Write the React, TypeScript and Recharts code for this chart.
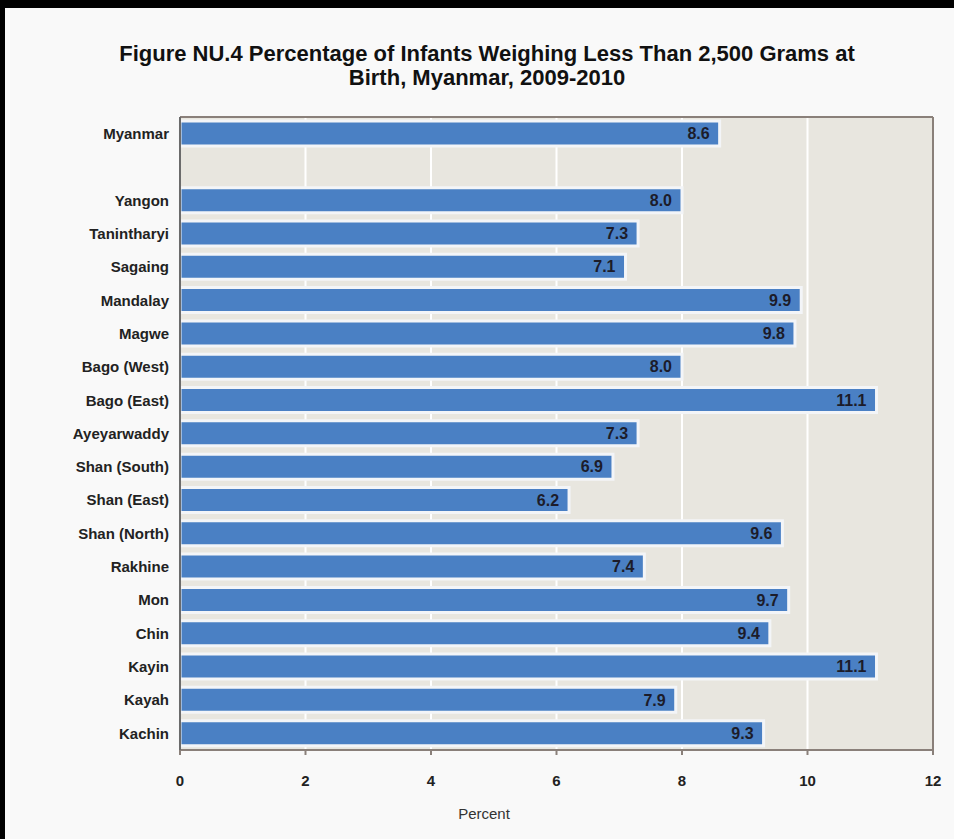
import React from 'react';
import { BarChart, Bar, XAxis, YAxis, CartesianGrid, LabelList } from 'recharts';

// regions as listed top to bottom; the blank entry is the spacer row under Myanmar
const regions = [
  'Myanmar', '', 'Yangon', 'Tanintharyi', 'Sagaing', 'Mandalay', 'Magwe',
  'Bago (West)', 'Bago (East)', 'Ayeyarwaddy', 'Shan (South)', 'Shan (East)',
  'Shan (North)', 'Rakhine', 'Mon', 'Chin', 'Kayin', 'Kayah', 'Kachin',
];
const lowBirthWeight = [
  8.6, null, 8.0, 7.3, 7.1, 9.9, 9.8, 8.0, 11.1, 7.3, 6.9, 6.2, 9.6, 7.4, 9.7, 9.4, 11.1, 7.9, 9.3,
];
const xTicks = [0, 2, 4, 6, 8, 10, 12];

const data = regions.map((region, i) => ({ region, value: lowBirthWeight[i] }));

const FONT = '"Liberation Sans", Arial, sans-serif';

const App: React.FC = () => {
  return (
    <div style={{ position: 'absolute', left: 0, top: 0, width: 954, height: 839, background: '#f9f9f9', fontFamily: FONT }}>
      <div
        style={{
          position: 'absolute', left: 0, top: 42, width: 974, textAlign: 'center',
          fontSize: 22, fontWeight: 'bold', lineHeight: '24px', color: '#111',
        }}
      >
        Figure NU.4 Percentage of Infants Weighing Less Than 2,500 Grams at
        <br />
        Birth, Myanmar, 2009-2010
      </div>
      <div style={{ position: 'absolute', left: 0, top: 805, width: 968, textAlign: 'center', fontSize: 15, color: '#333' }}>
        Percent
      </div>
      <BarChart
        width={954}
        height={839}
        data={data}
        layout="vertical"
        margin={{ top: 116, right: 20, bottom: 29, left: 0 }}
        barCategoryGap="12%"
        style={{ position: 'absolute', left: 0, top: 0 }}
      >
        <CartesianGrid horizontal={false} stroke="#ffffff" strokeWidth={2} fill="#e8e6df" />
        <XAxis
          type="number"
          domain={[0, 12]}
          ticks={xTicks}
          height={60}
          tickSize={5}
          tickMargin={20}
          stroke="#8a807a"
          strokeWidth={2}
          tick={{ fontSize: 15, fontWeight: 'bold', fill: '#222', fontFamily: FONT }}
        />
        <XAxis xAxisId="top" type="number" domain={[0, 12]} orientation="top" height={1} tick={false} tickLine={false} stroke="#8a807a" strokeWidth={2} />
        <YAxis
          type="category"
          dataKey="region"
          width={180}
          interval={0}
          tickLine={false}
          tickMargin={5}
          stroke="#6b6b6b"
          strokeWidth={2}
          tick={{ fontSize: 15, fontWeight: 'bold', fill: '#222', fontFamily: FONT }}
        />
        <YAxis yAxisId="right" type="category" dataKey="region" orientation="right" width={1} tick={false} tickLine={false} stroke="#8a807a" strokeWidth={2} />
        <Bar dataKey="value" fill="#4a80c4" stroke="#f3f5f8" strokeWidth={3} isAnimationActive={false}>
          <LabelList
            dataKey="value"
            position="insideRight"
            offset={10}
            formatter={(v: any) => (v == null ? '' : Number(v).toFixed(1))}
            style={{ fontSize: 16, fontWeight: 'bold', fill: '#1c1c2a', fontFamily: FONT }}
          />
        </Bar>
      </BarChart>
      <div style={{ position: 'absolute', left: 0, top: 0, width: 954, height: 8, background: '#000' }} />
      <div style={{ position: 'absolute', left: 0, top: 0, width: 5, height: 839, background: '#000' }} />
    </div>
  );
};

export default App;
